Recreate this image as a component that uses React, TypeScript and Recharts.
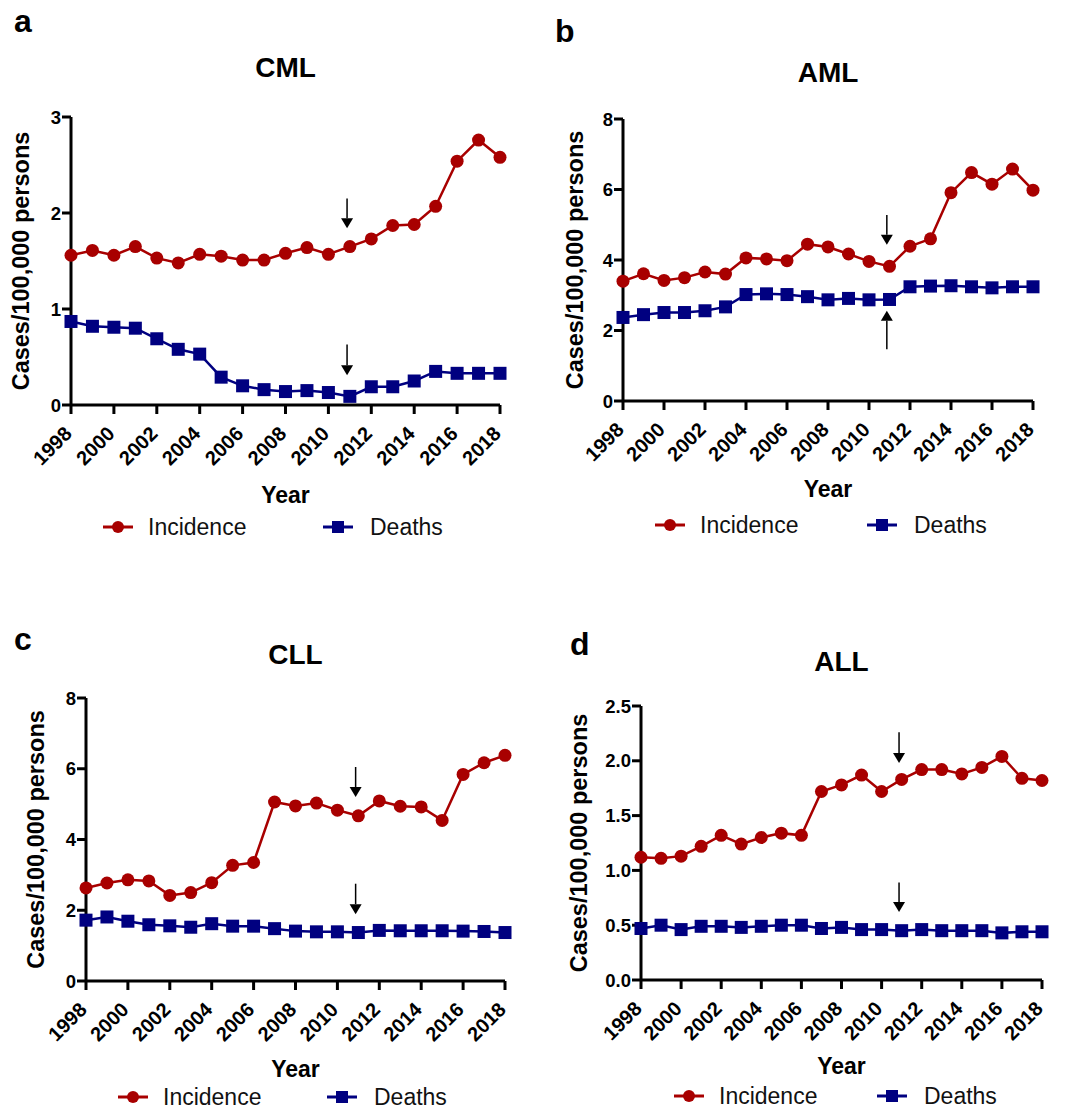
import React from "react";
import { LineChart, Line, XAxis, YAxis, ReferenceLine, Legend } from "recharts";

const FONT = "Arial, 'Liberation Sans', Helvetica, sans-serif";
const RED = "#A80000";
const BLUE = "#000080";

const years = [
  1998, 1999, 2000, 2001, 2002, 2003, 2004, 2005, 2006, 2007, 2008, 2009, 2010,
  2011, 2012, 2013, 2014, 2015, 2016, 2017, 2018,
];
const yearTicks = [1998, 2000, 2002, 2004, 2006, 2008, 2010, 2012, 2014, 2016, 2018];

const cmlIncidence = [1.56, 1.61, 1.56, 1.65, 1.53, 1.48, 1.57, 1.55, 1.51, 1.51, 1.58, 1.64, 1.57, 1.65, 1.73, 1.87, 1.88, 2.07, 2.54, 2.76, 2.58];
const cmlDeaths = [0.87, 0.82, 0.81, 0.8, 0.69, 0.58, 0.53, 0.29, 0.2, 0.16, 0.14, 0.15, 0.13, 0.09, 0.19, 0.19, 0.25, 0.35, 0.33, 0.33, 0.33];
const amlIncidence = [3.4, 3.61, 3.42, 3.5, 3.66, 3.6, 4.06, 4.03, 3.98, 4.45, 4.37, 4.17, 3.96, 3.82, 4.39, 4.6, 5.91, 6.48, 6.15, 6.58, 5.98];
const amlDeaths = [2.37, 2.45, 2.51, 2.51, 2.56, 2.67, 3.02, 3.04, 3.02, 2.96, 2.87, 2.91, 2.87, 2.88, 3.24, 3.26, 3.27, 3.24, 3.21, 3.24, 3.24];
const cllIncidence = [2.63, 2.77, 2.86, 2.83, 2.42, 2.5, 2.78, 3.27, 3.35, 5.06, 4.95, 5.03, 4.83, 4.67, 5.09, 4.94, 4.92, 4.54, 5.84, 6.17, 6.38];
const cllDeaths = [1.72, 1.81, 1.69, 1.59, 1.56, 1.52, 1.62, 1.55, 1.55, 1.48, 1.41, 1.39, 1.39, 1.37, 1.43, 1.42, 1.42, 1.42, 1.41, 1.4, 1.37];
const allIncidence = [1.12, 1.11, 1.13, 1.22, 1.32, 1.24, 1.3, 1.34, 1.32, 1.72, 1.78, 1.87, 1.72, 1.83, 1.92, 1.92, 1.88, 1.94, 2.04, 1.84, 1.82];
const allDeaths = [0.47, 0.5, 0.46, 0.49, 0.49, 0.48, 0.49, 0.5, 0.5, 0.47, 0.48, 0.46, 0.46, 0.45, 0.46, 0.45, 0.45, 0.45, 0.43, 0.44, 0.44];

const cmlTicks = [0, 1, 2, 3];
const amlTicks = [0, 2, 4, 6, 8];
const cllTicks = [0, 2, 4, 6, 8];
const allTicks = [0, 0.5, 1, 1.5, 2, 2.5];

// arrow annotations: [year, from, to] (tip at "to")
const cmlArrows = [[2010.87, 2.15, 1.84], [2010.87, 0.63, 0.31]];
const amlArrows = [[2010.87, 5.28, 4.43], [2010.87, 1.47, 2.56]];
const cllArrows = [[2010.87, 6.05, 5.2], [2010.87, 2.75, 1.89]];
const allArrows = [[2010.87, 2.26, 1.98], [2010.87, 0.89, 0.62]];

const panels = [
  {
    letter: "a", title: "CML", left: 0, top: 0, width: 530, height: 560,
    plot: { left: 71, top: 117, right: 500, bottom: 405 },
    incidence: cmlIncidence, deaths: cmlDeaths, yTicks: cmlTicks, decimals: 0, arrows: cmlArrows,
    letterX: 14, letterTop: 5, titleTop: 54, yLabelX: 21, yearDy: 98, legendDy: 122, legendX: [103, 323],
  },
  {
    letter: "b", title: "AML", left: 530, top: 0, width: 538, height: 560,
    plot: { left: 93, top: 119, right: 503, bottom: 401 },
    incidence: amlIncidence, deaths: amlDeaths, yTicks: amlTicks, decimals: 0, arrows: amlArrows,
    letterX: 25, letterTop: 15, titleTop: 59, yLabelX: 45, yearDy: 96, legendDy: 124, legendX: [125, 337],
  },
  {
    letter: "c", title: "CLL", left: 0, top: 560, width: 530, height: 549,
    plot: { left: 86, top: 138, right: 505, bottom: 421 },
    incidence: cllIncidence, deaths: cllDeaths, yTicks: cllTicks, decimals: 0, arrows: cllArrows,
    letterX: 14, letterTop: 63, titleTop: 81, yLabelX: 36, yearDy: 96, legendDy: 116, legendX: [118, 327],
  },
  {
    letter: "d", title: "ALL", left: 530, top: 560, width: 538, height: 549,
    plot: { left: 111, top: 146, right: 512, bottom: 420 },
    incidence: allIncidence, deaths: allDeaths, yTicks: allTicks, decimals: 1, arrows: allArrows,
    letterX: 40, letterTop: 68, titleTop: 88, yLabelX: 49, yearDy: 94, legendDy: 116, legendX: [144, 347],
  },
];

const YearTick = (props: any) => {
  const { x, y, payload } = props;
  return (
    <g transform={`translate(${x + 2},${y + 19})`}>
      <text x={0} y={0} textAnchor="end" transform="rotate(-45)" fontSize={20} fontWeight="bold" fontFamily={FONT} fill="#000">
        {payload.value}
      </text>
    </g>
  );
};

const Arrow = (props: any) => {
  const { x1, y1, x2, y2 } = props;
  const dir = y2 > y1 ? 1 : -1;
  const head = 10;
  return (
    <g>
      <line x1={x1} y1={y1} x2={x2} y2={y2 - dir * head} stroke="#000" strokeWidth={1.5} />
      <polygon points={`${x2 - 6},${y2 - dir * head} ${x2 + 6},${y2 - dir * head} ${x2},${y2}`} fill="#000" />
    </g>
  );
};

const CircleDot = (props: any) => {
  const { cx, cy, index } = props;
  return <circle key={`c${index}`} cx={cx} cy={cy} r={6.5} fill={RED} />;
};

const SquareDot = (props: any) => {
  const { cx, cy, index } = props;
  return <rect key={`s${index}`} x={cx - 6.5} y={cy - 6.5} width={13} height={13} fill={BLUE} />;
};

const Panel = ({ cfg }: { cfg: any }) => {
  const { left, top, width, height, plot } = cfg;
  const data = years.map((year, i) => ({ year, incidence: cfg.incidence[i], deaths: cfg.deaths[i] }));
  const midX = (plot.left + plot.right) / 2;
  const midY = (plot.top + plot.bottom) / 2;
  const legendTop = plot.bottom + cfg.legendDy - 14;

  return (
    <div style={{ position: "absolute", left, top, width, height }}>
      <div style={{ position: "absolute", left: cfg.letterX, top: cfg.letterTop, fontSize: 32, fontWeight: "bold", lineHeight: 1, fontFamily: FONT }}>
        {cfg.letter}
      </div>
      <div style={{ position: "absolute", left: plot.left, width: plot.right - plot.left, top: cfg.titleTop, textAlign: "center", fontSize: 28, fontWeight: "bold", lineHeight: 1, fontFamily: FONT }}>
        {cfg.title}
      </div>
      <LineChart
        width={width}
        height={height}
        data={data}
        margin={{ top: plot.top, right: width - plot.right, bottom: 0, left: 0 }}
      >
        <XAxis
          dataKey="year"
          type="number"
          domain={[1998, 2018]}
          ticks={yearTicks}
          height={height - plot.bottom}
          axisLine={{ stroke: "#000", strokeWidth: 3 }}
          tickLine={{ stroke: "#000", strokeWidth: 3 }}
          tickSize={9}
          tickMargin={2}
          tick={<YearTick />}
          label={() => (
            <text x={midX} y={plot.bottom + cfg.yearDy} textAnchor="middle" fontSize={23} fontWeight="bold" fontFamily={FONT} fill="#000">
              Year
            </text>
          )}
        />
        <YAxis
          type="number"
          domain={[cfg.yTicks[0], cfg.yTicks[cfg.yTicks.length - 1]]}
          ticks={cfg.yTicks}
          width={plot.left}
          axisLine={{ stroke: "#000", strokeWidth: 3 }}
          tickLine={{ stroke: "#000", strokeWidth: 3 }}
          tickSize={9}
          tickMargin={1}
          tickFormatter={(v: number) => v.toFixed(cfg.decimals)}
          tick={{ fill: "#000", fontSize: 18.5, fontWeight: "bold", fontFamily: FONT }}
          label={() => (
            <text
              x={cfg.yLabelX}
              y={midY}
              transform={`rotate(-90, ${cfg.yLabelX}, ${midY})`}
              textAnchor="middle"
              dominantBaseline="central"
              fontSize={23.5}
              fontWeight="bold"
              fontFamily={FONT}
              fill="#000"
            >
              Cases/100,000 persons
            </text>
          )}
        />
        {cfg.arrows.map((a: number[], i: number) => (
          <ReferenceLine
            key={i}
            segment={[{ x: a[0], y: a[1] }, { x: a[0], y: a[2] }]}
            ifOverflow="visible"
            shape={Arrow}
          />
        ))}
        <Line
          name="Incidence"
          dataKey="incidence"
          type="linear"
          stroke={RED}
          strokeWidth={2.5}
          dot={CircleDot}
          activeDot={false}
          isAnimationActive={false}
        />
        <Line
          name="Deaths"
          dataKey="deaths"
          type="linear"
          stroke={BLUE}
          strokeWidth={2.5}
          dot={SquareDot}
          activeDot={false}
          isAnimationActive={false}
        />
        <Legend
          layout="horizontal"
          verticalAlign="middle"
          align="center"
          wrapperStyle={{ left: 0, top: legendTop, width, height: 28 }}
          content={() => (
            <div style={{ position: "relative", width, height: 28, fontFamily: FONT, fontSize: 23, color: "#111" }}>
              <svg style={{ position: "absolute", left: cfg.legendX[0], top: 7 }} width={30} height={14}>
                <line x1={0} y1={7} x2={30} y2={7} stroke={RED} strokeWidth={3} />
                <circle cx={15} cy={7} r={6} fill={RED} />
              </svg>
              <span style={{ position: "absolute", left: cfg.legendX[0] + 45, top: 0, lineHeight: "28px", whiteSpace: "nowrap" }}>Incidence</span>
              <svg style={{ position: "absolute", left: cfg.legendX[1], top: 7 }} width={30} height={14}>
                <line x1={0} y1={7} x2={30} y2={7} stroke={BLUE} strokeWidth={3} />
                <rect x={9} y={1} width={12} height={12} fill={BLUE} />
              </svg>
              <span style={{ position: "absolute", left: cfg.legendX[1] + 47, top: 0, lineHeight: "28px", whiteSpace: "nowrap" }}>Deaths</span>
            </div>
          )}
        />
      </LineChart>
    </div>
  );
};

const App = () => (
  <div style={{ position: "absolute", left: 0, top: 0, width: 1068, height: 1109, background: "#fff" }}>
    {panels.map((p) => (
      <Panel key={p.letter} cfg={p} />
    ))}
  </div>
);

export default App;
